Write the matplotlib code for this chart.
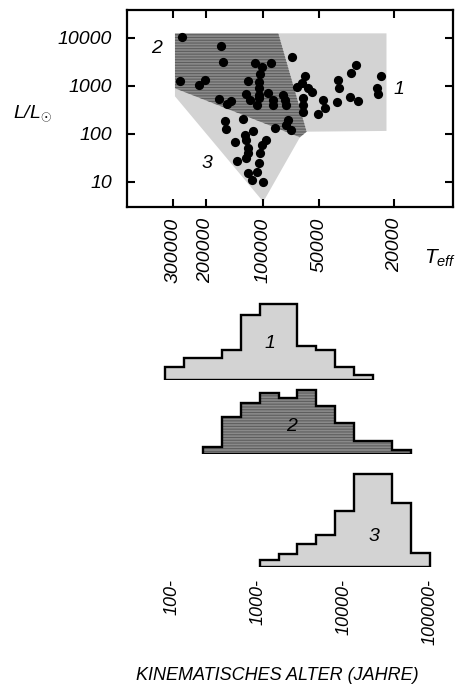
import numpy as np
import matplotlib
matplotlib.use("Agg")
import matplotlib.pyplot as plt
from matplotlib.patches import Polygon

plt.rcParams['font.family'] = ['Liberation Sans', 'DejaVu Sans']
plt.rcParams['font.style'] = 'italic'
plt.rcParams['mathtext.fontset'] = 'custom'
plt.rcParams['mathtext.rm'] = 'Liberation Sans:italic'
plt.rcParams['mathtext.it'] = 'Liberation Sans:italic'
plt.rcParams['hatch.color'] = '#5e5e5e'
plt.rcParams['hatch.linewidth'] = 0.8

# --- HRD: central stars of planetary nebulae ---
t_eff = [267000, 275000, 218000, 202000, 166000, 162000, 171000, 155000, 147000, 120000,
         122000, 117000, 110000, 100400, 90700, 103000, 105000, 104000, 105000, 104000,
         107000, 93300, 87700, 87700, 77600, 76100, 75200, 73100, 74700, 71000, 86000, 70100,
         65900, 62100, 59600, 57300, 55000, 60800, 60800, 60800, 51000, 48000, 46700,
         40400, 39600, 39200, 34000, 31900, 34300, 31300, 24800, 24300, 23500,
         158000, 157000, 127000, 112000, 124000, 140000, 123000, 96000, 119000, 101000,
         119000, 103000, 122000, 136000, 105000, 107000, 119000, 114000, 99200]
lum = [10500, 1270, 1030, 1310, 6700, 3060, 527, 415, 487, 1270,
       659, 502, 2920, 2410, 2920, 1720, 1210, 880, 640, 545,
       395, 692, 502, 395, 640, 502, 395, 193, 152, 119, 133, 3890,
       923, 1120, 1590, 880, 726, 545, 395, 287, 253, 502, 337,
       450, 1310, 908, 1810, 2660, 591, 487, 880, 659, 1590,
       187, 125, 199, 114, 94, 66, 74, 74, 51, 58,
       39, 40, 31, 27, 25, 16, 15, 11, 9.7]

# group boundaries in the HRD
region1_t = [82600, 22000, 22000, 58400]
region1_l = [12300, 12300, 114, 110]
region2_t = [292000, 82600, 58400, 63400, 292000]
region2_l = [12300, 12300, 110, 84, 880]
region3_t = [292000, 292000, 99200, 63400]
region3_l = [880, 600, 3.8, 84]

teff_ticks = [300000, 200000, 100000, 50000, 20000]
lum_ticks = [10, 100, 1000, 10000]

# --- kinematic age histograms (percent per bin) ---
age_edges = [83, 138, 229, 380, 630, 1050, 1740, 2880, 4790, 7940,
             13200, 21900, 36300, 60300, 100000]
hist1 = [3.4, 5.6, 5.6, 7.7, 16.8, 19.5, 19.5, 8.8, 7.7, 3.4, 1.3]
hist2 = [1.9, 9.6, 13.1, 15.6, 14.4, 16.5, 12.4, 7.9, 3.4, 3.4, 1.0]
hist3 = [1.7, 3.4, 5.9, 8.2, 14.4, 24.0, 24.0, 16.3, 3.6]
hist1_edges = age_edges[0:12]
hist2_edges = age_edges[2:14]
hist3_edges = age_edges[5:15]
age_ticks = [100, 1000, 10000, 100000]
age_labels = ['100-', '1000-', '10000-', '100000-']

light = '#d3d3d3'
dark = '#8a8a8a'

W, H = 457, 691
fig = plt.figure(figsize=(W / 100, H / 100), dpi=100)

# top panel
ax = fig.add_axes([127.3 / W, 1 - 206.7 / H, 326 / W, 196.7 / H])
ax.set_xscale('log')
ax.set_yscale('log')
ax.set_xlim(523000, 9720)
ax.set_ylim(3.01, 37700)

ax.add_patch(Polygon(np.column_stack([region1_t, region1_l]), facecolor=light, linewidth=0))
ax.add_patch(Polygon(np.column_stack([region3_t, region3_l]), facecolor=light, linewidth=0))
ax.add_patch(Polygon(np.column_stack([region2_t, region2_l]), facecolor=dark,
                     hatch='------', linewidth=0))
ax.scatter(t_eff, lum, s=44, color='black', zorder=3, linewidths=0)

ax.text(366000, 6000, '2', fontsize=14, ha='center', va='center')
ax.text(19000, 813, '1', fontsize=14, ha='center', va='center')
ax.text(198000, 24, '3', fontsize=14, ha='center', va='center')

ax.set_xticks(teff_ticks)
ax.set_xticklabels([str(t) for t in teff_ticks], rotation=90)
ax.set_yticks(lum_ticks)
ax.set_yticklabels([str(v) for v in lum_ticks])
ax.minorticks_off()
ax.tick_params(direction='in', length=6, width=1.5, top=True, right=True, labelsize=14)
ax.tick_params(axis='x', pad=8)
ax.tick_params(axis='y', pad=11)
for s in ax.spines.values():
    s.set_linewidth(1.6)

ax.set_ylabel(r'$L/L_{\odot}$', rotation=0, fontsize=14, ha='center', va='center')
ax.yaxis.set_label_coords(-0.29, 0.476)
fig.text(440 / W, 1 - 258 / H, r'$T_{eff}$', fontsize=15, ha='center', va='center')

# histograms
px_per_pct = 3.88
hist_data = [(hist1, hist1_edges, light, None, 380, 1390, 9.5, '1'),
             (hist2, hist2_edges, dark, '------', 454, 2480, 7.0, '2'),
             (hist3, hist3_edges, light, None, 566.7, 22500, 7.7, '3')]
axes_h = []
for vals, edges, col, hatch, base, lx, ly, lab in hist_data:
    a = fig.add_axes([119.9 / W, 1 - base / H, 325.3 / W, 100 / H])
    a.set_xscale('log')
    a.set_xlim(25, 150000)
    a.set_ylim(0, 100 / px_per_pct)
    a.patch.set_visible(False)
    for s in a.spines.values():
        s.set_visible(False)
    a.stairs(vals, edges, fill=True, facecolor=col, hatch=hatch, baseline=0)
    a.stairs(vals, edges, fill=False, edgecolor='black', linewidth=1.7, baseline=0)
    a.hlines(0, edges[0], edges[-1], color='black', linewidth=1.7)
    a.text(lx, ly, lab, fontsize=14, ha='center', va='center')
    a.set_yticks([])
    a.set_xticks([])
    a.minorticks_off()
    axes_h.append(a)

a3 = axes_h[-1]
a3.set_xticks(age_ticks)
a3.set_xticklabels(age_labels, rotation=90)
a3.minorticks_off()
a3.tick_params(axis='x', length=0, pad=9, labelsize=13)

fig.text(277.5 / W, 1 - 675 / H, 'KINEMATISCHES ALTER (JAHRE)', fontsize=13,
         ha='center', va='center')

fig.savefig('out.png', dpi=100)
